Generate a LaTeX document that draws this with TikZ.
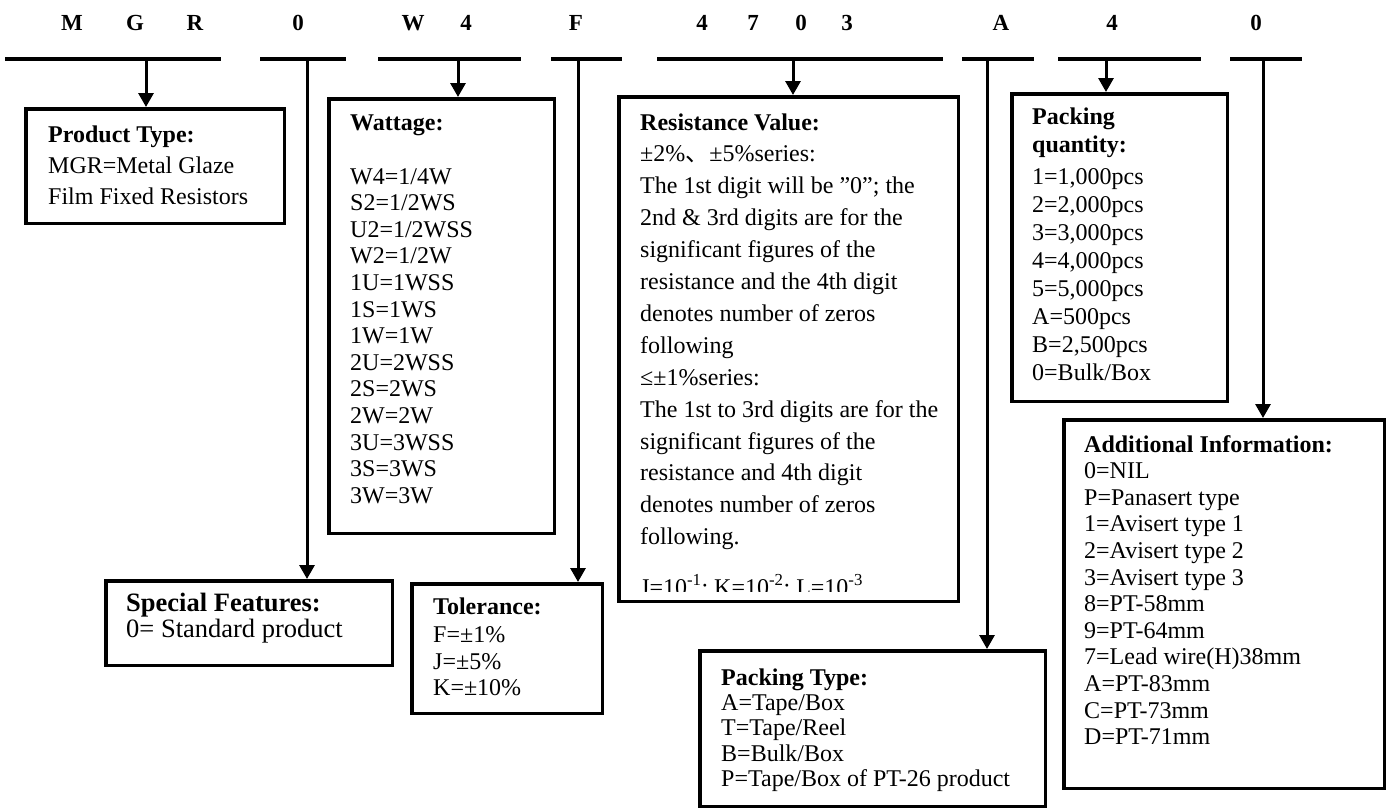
\documentclass[tikz,border=0pt]{standalone}
\usepackage{fontspec}
\setmainfont{Liberation Serif}
\newfontfamily\cjkfont{Noto Sans CJK SC}
\usetikzlibrary{arrows.meta}
\tikzset{
  box/.style={draw, line width=3.5pt, rectangle, inner sep=0pt},
  bar/.style={line width=4pt},
  conn/.style={line width=3pt, -{Triangle[length=14pt,width=15pt]}},
  txt/.style={anchor=base west, inner sep=0pt, font=\fontsize{24}{24}\selectfont},
  btxt/.style={anchor=base west, inner sep=0pt, font=\fontsize{24}{24}\selectfont\bfseries},
  bigtxt/.style={anchor=base west, inner sep=0pt, font=\fontsize{26.5}{26.5}\selectfont},
  bigbtxt/.style={anchor=base west, inner sep=0pt, font=\fontsize{26.5}{26.5}\selectfont\bfseries},
  code/.style={anchor=base, inner sep=0pt, font=\fontsize{23}{23}\selectfont\bfseries}
}
\begin{document}
\begin{tikzpicture}[x=1pt,y=-1pt]
\useasboundingbox (0,0) rectangle (1392,811);
\fill[white] (0,0) rectangle (1392,811);

% code letters
\node[code] (l1) at (72,30) {M};
\node[code] (l2) at (135,30) {G};
\node[code] (l3) at (195,30) {R};
\node[code] (l4) at (298,30) {0};
\node[code] (l5) at (413,30) {W};
\node[code] (l6) at (466,30) {4};
\node[code] (l7) at (576,30) {F};
\node[code] (l8) at (702,30) {4};
\node[code] (l9) at (753,30) {7};
\node[code] (l10) at (801,30) {0};
\node[code] (l11) at (847,30) {3};
\node[code] (l12) at (1001,30) {A};
\node[code] (l13) at (1112,30) {4};
\node[code] (l14) at (1256,30) {0};

% bars
\draw[bar] (5,59) -- (221,59);
\draw[bar] (260,59) -- (346,59);
\draw[bar] (378,59) -- (521,59);
\draw[bar] (551,59) -- (622,59);
\draw[bar] (657,59) -- (943,59);
\draw[bar] (962,59) -- (1034,59);
\draw[bar] (1058,59) -- (1201,59);
\draw[bar] (1230,59) -- (1302,59);

% boxes
\node[box, minimum width=258.5pt, minimum height=114.5pt] (prod) at (155,166) {};
\node[box, minimum width=225.5pt, minimum height=434.5pt] (wat) at (441.5,316) {};
\node[box, minimum width=339.5pt, minimum height=504.5pt] (res) at (788.5,349) {};
\node[box, minimum width=215.5pt, minimum height=307.5pt] (qty) at (1119.5,247.5) {};
\node[box, minimum width=320.5pt, minimum height=368.5pt] (add) at (1224,604) {};
\node[box, minimum width=286.5pt, minimum height=84.5pt] (spec) at (249,623) {};
\node[box, minimum width=190.5pt, minimum height=129.5pt] (tol) at (507,648.5) {};
\node[box, minimum width=345.5pt, minimum height=155.5pt] (ptype) at (872.5,728.5) {};

% connectors
\coordinate (c1) at (146,59);
\coordinate (c2) at (307,59);
\coordinate (c3) at (458,59);
\coordinate (c4) at (578,59);
\coordinate (c5) at (793,59);
\coordinate (c6) at (987,59);
\coordinate (c7) at (1106,59);
\coordinate (c8) at (1263,59);
\draw[conn] (c1) -- (c1 |- prod.north);
\draw[conn] (c2) -- (c2 |- spec.north);
\draw[conn] (c3) -- (c3 |- wat.north);
\draw[conn] (c4) -- (c4 |- tol.north);
\draw[conn] (c5) -- (c5 |- res.north);
\draw[conn] (c6) -- (c6 |- ptype.north);
\draw[conn] (c7) -- (c7 |- qty.north);
\draw[conn] (c8) -- (c8 |- add.north);

% product type
\node[btxt] (prod-t) at (48,142) {Product Type:};
\node[txt] (prod-1) at (48,173) {MGR=Metal Glaze};
\node[txt] (prod-2) at (48,204) {Film Fixed Resistors};

% wattage
\node[btxt] (wat-t) at (350,130) {Wattage:};
\foreach \t [count=\i] in {W4=1/4W,S2=1/2WS,U2=1/2WSS,W2=1/2W,1U=1WSS,1S=1WS,1W=1W,2U=2WSS,2S=2WS,2W=2W,3U=3WSS,3S=3WS,3W=3W}
  \node[txt] (wat-\i) at (350,{184+(\i-1)*26.6}) {\t};

% resistance value
\node[btxt] (res-t) at (640,130) {Resistance Value:};
\foreach \t [count=\i] in {
  {±2\%{\cjkfont 、}±5\%series:},
  {The 1st digit will be ”0”; the},
  {2nd \& 3rd digits are for the},
  {significant figures of the},
  {resistance and the 4th digit},
  {denotes number of zeros},
  {following},
  {≤±1\%series:},
  {The 1st to 3rd digits are for the},
  {significant figures of the},
  {resistance and 4th digit},
  {denotes number of zeros},
  {following.}}
  \node[txt] (res-\i) at (640,{130+\i*31.9}) {\t};
\begin{scope}
  \clip (621,560) rectangle (956,591);
  \node[txt] (res-j) at (640,595) {J=10\textsuperscript{-1}; K=10\textsuperscript{-2}; L=10\textsuperscript{-3}};
\end{scope}

% packing quantity
\node[btxt] (qty-t1) at (1032,124) {Packing};
\node[btxt] (qty-t2) at (1032,152) {quantity:};
\foreach \t [count=\i] in {{1=1,000pcs},{2=2,000pcs},{3=3,000pcs},{4=4,000pcs},{5=5,000pcs},A=500pcs,{B=2,500pcs},0=Bulk/Box}
  \node[txt] (qty-\i) at (1032,{184+(\i-1)*28}) {\t};

% additional information
\node[btxt] (add-t) at (1084,452) {Additional Information:};
\foreach \t [count=\i] in {0=NIL,P=Panasert type,1=Avisert type 1,2=Avisert type 2,3=Avisert type 3,8=PT-58mm,9=PT-64mm,7=Lead wire(H)38mm,A=PT-83mm,C=PT-73mm,D=PT-71mm}
  \node[txt] (add-\i) at (1084,{452+\i*26.6}) {\t};

% special features
\node[bigbtxt] (spec-t) at (126,611) {Special Features:};
\node[bigtxt] (spec-1) at (126,637) {0= Standard product};

% tolerance
\node[btxt] (tol-t) at (433,614) {Tolerance:};
\node[txt] (tol-1) at (433,642) {F=±1\%};
\node[txt] (tol-2) at (433,669) {J=±5\%};
\node[txt] (tol-3) at (433,695) {K=±10\%};

% packing type
\node[btxt] (pt-t) at (721,685) {Packing Type:};
\node[txt] (pt-1) at (721,710) {A=Tape/Box};
\node[txt] (pt-2) at (721,735.5) {T=Tape/Reel};
\node[txt] (pt-3) at (721,761) {B=Bulk/Box};
\node[txt] (pt-4) at (721,786.5) {P=Tape/Box of PT-26 product};
\end{tikzpicture}
\end{document}
